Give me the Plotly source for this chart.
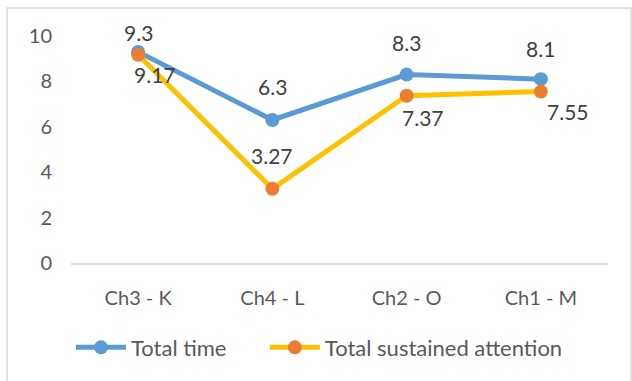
import plotly.graph_objects as go

categories = ["Ch3 - K", "Ch4 - L", "Ch2 - O", "Ch1 - M"]
total_time = [9.3, 6.3, 8.3, 8.1]
total_attention = [9.17, 3.27, 7.37, 7.55]
y_ticks = [0, 2, 4, 6, 8, 10]

# label pixel offsets (dx, dy-up)
time_label_shift = [(0, 19), (0, 33), (0, 32), (0, 31)]
att_label_shift = [(17, -20), (0, 33), (16, -22), (27, -20)]

font_family = "Lato, Carlito, Calibri, sans-serif"
txt_color = "#404040"

fig = go.Figure()
fig.add_trace(go.Scatter(
    x=categories, y=total_time, name="Total time",
    mode="lines+markers",
    line=dict(color="#5B9BD5", width=5),
    marker=dict(color="#5B9BD5", size=14),
    cliponaxis=False, legend="legend",
))
fig.add_trace(go.Scatter(
    x=categories, y=total_attention, name="Total sustained attention",
    mode="lines+markers",
    line=dict(color="#FFC000", width=5),
    marker=dict(color="#ED7D31", size=14),
    cliponaxis=False, legend="legend2",
))

annotations = []
for vals, shifts in ((total_time, time_label_shift), (total_attention, att_label_shift)):
    for c, v, (dx, dy) in zip(categories, vals, shifts):
        annotations.append(dict(
            x=c, y=v, xref="x", yref="y", text=str(v), showarrow=False,
            xshift=dx, yshift=dy, xanchor="center", yanchor="middle",
            font=dict(size=21, color=txt_color, family=font_family),
        ))

legend_style = dict(orientation="h", xanchor="left", y=-0.28, yanchor="top",
                    font=dict(size=22, color="#595959"), itemwidth=50,
                    bgcolor="rgba(0,0,0,0)")

fig.update_layout(
    width=632, height=381,
    margin=dict(l=71, r=24, t=36, b=118),
    paper_bgcolor="white", plot_bgcolor="white",
    font=dict(family=font_family, size=20, color="#595959"),
    showlegend=True,
    legend=dict(x=0.0, **legend_style),
    legend2=dict(x=0.361, **legend_style),
    annotations=annotations,
    shapes=[dict(type="rect", xref="paper", yref="paper",
                 x0=-0.119, x1=1.043, y0=-0.53, y1=1.123,
                 line=dict(color="#D9D9D9", width=1.5))],
)
fig.update_xaxes(showgrid=False, showline=True, linecolor="#D9D9D9", linewidth=1.5,
                 ticks="", tickfont=dict(size=20, color="#595959"), range=[-0.5, 3.5],
                 ticklabelstandoff=16)
fig.update_yaxes(range=[0, 10], tickvals=y_ticks, showgrid=False, zeroline=False,
                 showline=False, tickfont=dict(size=20, color="#595959"), ticklabelstandoff=18)

fig.write_html("out.html")
